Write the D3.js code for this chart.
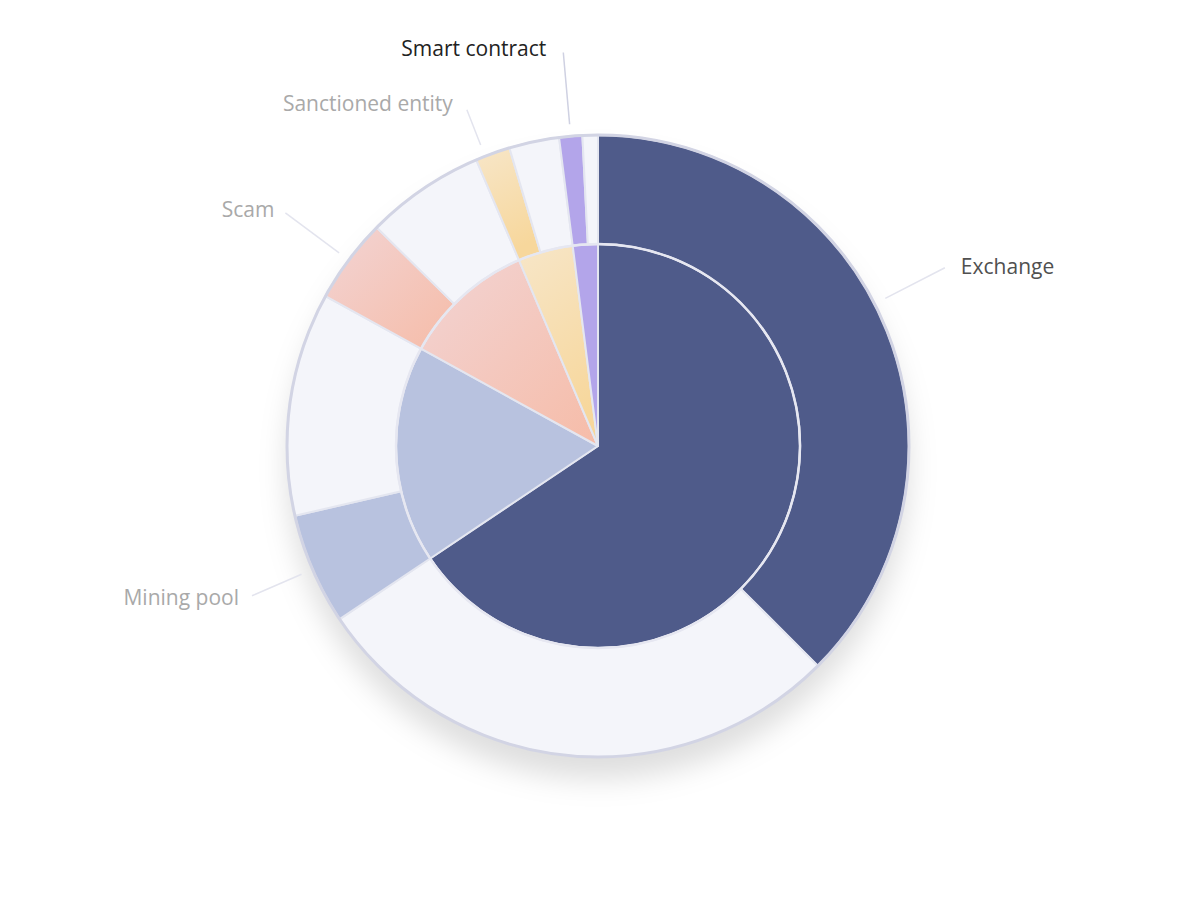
<!DOCTYPE html>
<html>
<head>
<meta charset="utf-8">
<script src="https://cdn.jsdelivr.net/npm/d3@7"></script>
<style>
  body { margin: 0; background: #fff; }
  svg { display: block; }
  text { font-family: "Open Sans", Lato, sans-serif; }
</style>
</head>
<body>
<svg width="1200" height="900"></svg>
<script>
// categories and shares (percent of the whole)
const categories = ['Exchange', 'Mining pool', 'Scam', 'Sanctioned entity', 'Smart contract'];
const directValues = [37.5, 5.8, 4.4, 1.8, 1.2];
const indirectValues = [28.1, 11.6, 6.2, 2.6, 0.8];
const totalValues = directValues.map((d, i) => d + indirectValues[i]);

const svg = d3.select('svg');
const cx = 598, cy = 446;
const innerR = 202, outerR = 311;

const defs = svg.append('defs');

const shadow = defs.append('filter')
  .attr('id', 'shadow')
  .attr('x', '-30%').attr('y', '-30%')
  .attr('width', '160%').attr('height', '160%');
shadow.append('feDropShadow')
  .attr('dx', 0).attr('dy', 22)
  .attr('stdDeviation', 14)
  .attr('flood-color', '#000')
  .attr('flood-opacity', 0.13);

function grad(id, c1, c2, x2, y2) {
  const lg = defs.append('linearGradient')
    .attr('id', id)
    .attr('x1', 0).attr('y1', 0)
    .attr('x2', x2).attr('y2', y2);
  lg.append('stop').attr('offset', '0%').attr('stop-color', c1);
  lg.append('stop').attr('offset', '100%').attr('stop-color', c2);
}
grad('scamGrad', '#f2d4d4', '#f6bca8', 1, 1);
grad('sanctGrad', '#f7e6c8', '#f7d79c', 0.3, 1);

const colors = ['#4f5b8a', '#b8c2df', 'url(#scamGrad)', 'url(#sanctGrad)', '#b3a5ea'];
const paleColor = '#f4f5fa';
const labelColors = ['#505050', '#a9a9a9', '#a9a9a9', '#a9a9a9', '#222222'];

// leader line tweaks: angle nudge (deg), end radius, text offsets
const labelNudge = [-4.7, 0, 0, -1.5, 0];
const labelEndR = [390, 377, 390, 361, 395];
const labelDx = [16, -13, -11, -14, -17];
const labelDy = [-1, 2, -3, -6, -4];

const g = svg.append('g')
  .attr('transform', `translate(${cx},${cy})`);

g.append('circle')
  .attr('r', outerR)
  .attr('fill', '#fff')
  .attr('filter', 'url(#shadow)');

const pie = d3.pie().sort(null).value(d => d);

// inner pie
const innerArc = d3.arc().innerRadius(0).outerRadius(innerR);
g.append('g').selectAll('path')
  .data(pie(totalValues))
  .join('path')
  .attr('d', innerArc)
  .attr('fill', (d, i) => colors[i])
  .attr('stroke', '#e4e6f0')
  .attr('stroke-width', 2)
  .attr('stroke-linejoin', 'round');

// outer ring: direct / indirect parts of each category
const ringValues = [];
categories.forEach((c, i) => {
  ringValues.push(directValues[i]);
  ringValues.push(indirectValues[i]);
});
const ringArcs = pie(ringValues);
const outerArc = d3.arc().innerRadius(innerR).outerRadius(outerR);
g.append('g').selectAll('path')
  .data(ringArcs)
  .join('path')
  .attr('d', outerArc)
  .attr('fill', (d, i) => i % 2 === 0 ? colors[i / 2] : paleColor)
  .attr('stroke', '#e4e6f0')
  .attr('stroke-width', 2)
  .attr('stroke-linejoin', 'round');

g.append('circle')
  .attr('r', innerR)
  .attr('fill', 'none')
  .attr('stroke', '#e6e7f1')
  .attr('stroke-width', 2.5);

g.append('circle')
  .attr('r', outerR)
  .attr('fill', 'none')
  .attr('stroke', '#d2d4e4')
  .attr('stroke-width', 3);

// labels
const labels = g.append('g');
categories.forEach((c, i) => {
  const a = ringArcs[i * 2];
  const mid = (a.startAngle + a.endAngle) / 2 + labelNudge[i] * Math.PI / 180;
  const sx = Math.sin(mid), sy = -Math.cos(mid);
  const r0 = 323, r1 = labelEndR[i];
  labels.append('line')
    .attr('x1', r0 * sx).attr('y1', r0 * sy)
    .attr('x2', r1 * sx).attr('y2', r1 * sy)
    .attr('stroke', i === 4 ? '#cfd1e2' : '#e3e4ee')
    .attr('stroke-width', 1.5);
  labels.append('text')
    .attr('x', r1 * sx + labelDx[i])
    .attr('y', r1 * sy + labelDy[i])
    .attr('dy', '0.35em')
    .attr('text-anchor', sx > 0 ? 'start' : 'end')
    .attr('font-size', 21)
    .attr('font-weight', i === 4 ? 500 : 400)
    .attr('fill', labelColors[i])
    .text(c);
});
</script>
</body>
</html>
